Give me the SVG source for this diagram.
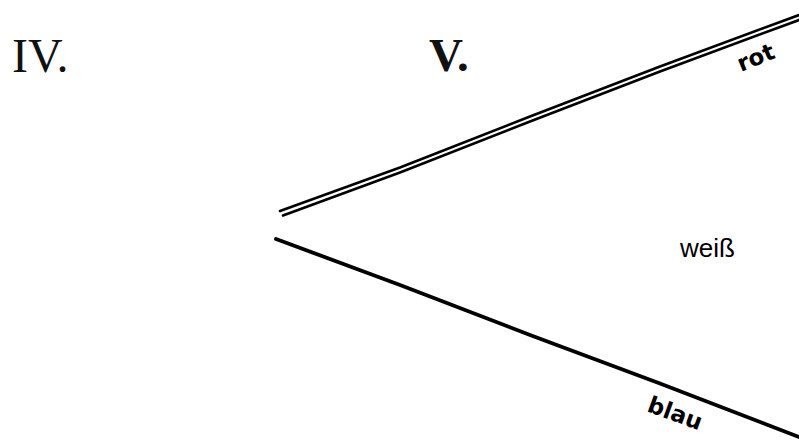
<svg xmlns="http://www.w3.org/2000/svg" width="799" height="441" viewBox="0 0 799 441">
<style>
.ln{fill:none;stroke:#000;stroke-linecap:round;stroke-linejoin:round}
.thin{stroke-width:2.6}
.thick{stroke-width:3.8}
.roman{font-family:"Liberation Serif","Times New Roman",serif;fill:#111}
.hand{font-family:"DejaVu Sans",sans-serif;font-weight:bold;font-size:23px;fill:#000}
.lbl{font-family:"Liberation Sans",Arial,sans-serif;font-size:26px;fill:#000}
</style>
<rect width="799" height="441" fill="#fff"/>
<g id="titles">
<text class="roman" x="12" y="72" font-size="48">IV.</text>
<text class="roman" x="429" y="71" font-size="47" font-weight="bold">V.</text>
</g>
<g id="lines">
<path class="ln thin" d="M280,211 L400,167.5 L530,116.5 L660,66.5 L799,15"/>
<path class="ln thin" d="M283,215.5 L400,172.5 L530,121.5 L660,71.5 L799,20"/>
<path class="ln thick" d="M276,239 L400,285 L530,335 L660,383.5 L799,437"/>
</g>
<g id="labels">
<text class="hand" transform="translate(741,72) rotate(-22)">rot</text>
<text class="hand" transform="translate(646,411) rotate(20)">blau</text>
<text class="lbl" x="680" y="257">weiß</text>
</g>
</svg>
